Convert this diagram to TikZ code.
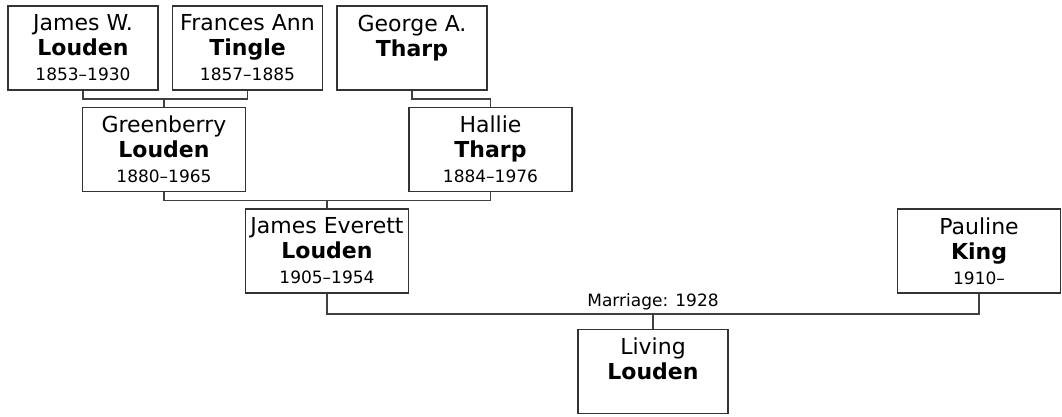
\documentclass[tikz,border=0pt]{standalone}
\usepackage{fontspec}
\setmainfont{DejaVu Sans}
\usepackage{tikz}
\usetikzlibrary{positioning}
\tikzset{font={\fontsize{22pt}{25pt}\selectfont}}
\newcommand{\yrs}[1]{{\fontsize{17pt}{22pt}\selectfont #1}}

\begin{document}
\begin{tikzpicture}[
  x=1pt, y=-1pt,
  card/.style={rectangle, draw=black!80, line width=1.5pt, minimum width=150pt, minimum height=84pt, inner sep=0pt, align=center},
  wide/.style={card, minimum width=163pt},
  link/.style={draw=black!75, line width=1.5pt}
]
\useasboundingbox (0,0) rectangle (1062,416);
% oldest generation
\node[card] (jw) at (83,48) {James W.\\\textbf{Louden}\\\yrs{1853--1930}};
\node[card, right=13pt of jw] (fa) {Frances Ann\\\textbf{Tingle}\\\yrs{1857--1885}};
\node[card, right=13pt of fa] (ga) {George A.\\\textbf{Tharp}\\\yrs{\phantom{1}}};
% parents
\node[wide] (gb) at (164,149.5) {Greenberry\\\textbf{Louden}\\\yrs{1880--1965}};
\node[wide] (ht) at (490.5,149.5) {Hallie\\\textbf{Tharp}\\\yrs{1884--1976}};
\node[wide] (je) at (327,251) {James Everett\\\textbf{Louden}\\\yrs{1905--1954}};
\node[wide] (pk) at (979,251) {Pauline\\\textbf{King}\\\yrs{1910--}};
\node[card] (lv) at (653,371.5) {Living\\\textbf{Louden}\\\yrs{\phantom{1}}};
% connectors
\draw[link] (jw.south) -- ++(0,8) -| (fa.south);
\draw[link] (gb.north) -- ++(0,-9);
\draw[link] (ga.south) -- ++(0,8) -| (ht.north);
\draw[link] (gb.south) -- ++(0,8) -| (ht.south);
\draw[link] (je.north) -- ++(0,-8);
\draw[link] (je.south) -- ++(0,20) -| (pk.south);
\draw[link] (lv.north) -- ++(0,-15) node[above, inner sep=3pt, font={\fontsize{17pt}{20pt}\selectfont}] (mlabel) {Marriage: 1928};
\end{tikzpicture}
\end{document}
